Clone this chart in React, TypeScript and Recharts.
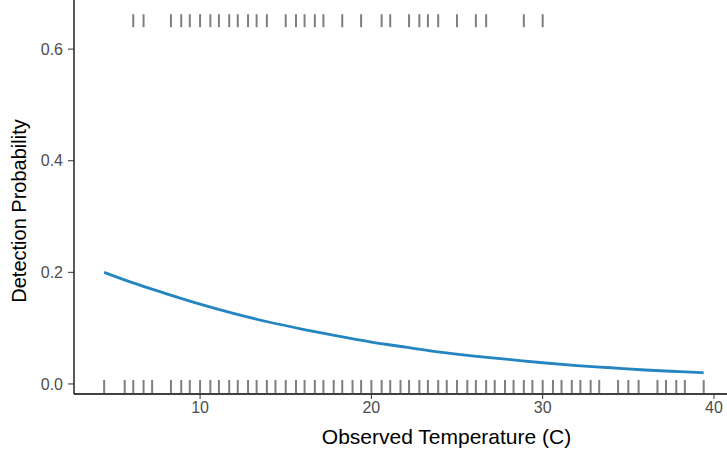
import React from "react";
import { ComposedChart, XAxis, YAxis, Line, Scatter, Label } from "recharts";

// Fitted detection-probability curve (temperature in C)
const curveTemp = [4.4, 6, 8, 10, 12, 14, 16, 18, 20, 22, 24, 26, 28, 30, 32, 34, 36, 38, 39.4];
const curveProb = [0.2, 0.182, 0.162, 0.143, 0.126, 0.111, 0.098, 0.086, 0.075, 0.066, 0.057, 0.05, 0.044, 0.038, 0.033, 0.029, 0.025, 0.022, 0.02];

// Rug of non-detections (bottom)
const rugBottom = [
  4.4, 5.6, 6.1, 6.7, 7.2, 8.3, 8.9, 9.4, 10.0, 10.6, 11.1, 11.7, 12.2, 12.8, 13.3, 13.9, 14.4, 15.0,
  15.6, 16.1, 16.7, 17.2, 17.8, 18.3, 18.9, 19.4, 20.0, 20.6, 21.1, 21.7, 22.2, 22.8, 23.3, 23.9, 24.4,
  25.0, 25.6, 26.1, 26.7, 27.2, 27.8, 28.3, 28.9, 29.4, 30.0, 30.6, 31.1, 31.7, 32.2, 32.8, 33.3,
  34.4, 35.0, 35.6, 36.7, 37.2, 37.8, 38.3, 39.4,
];

// Rug of detections (top)
const rugTop = [
  6.1, 6.7, 8.3, 8.9, 9.4, 10.0, 10.6, 11.1, 11.7, 12.2, 12.8, 13.3, 13.9, 15.0, 15.6, 16.1, 16.7, 17.2,
  18.3, 19.4, 20.6, 21.1, 22.2, 22.8, 23.3, 23.9, 25.0, 26.1, 26.7, 28.9, 30.0,
];

const xTicks = [10, 20, 30, 40];
const yTicks = [0, 0.2, 0.4, 0.6];

const curveData = curveTemp.map((x, i) => ({ x, p: curveProb[i] }));
const bottomData = rugBottom.map((x) => ({ x, y: 0 }));
const topData = rugTop.map((x) => ({ x, y: 0.65 }));

const FONT = "'Liberation Sans', Arial, sans-serif";
const RUG = "#7f7f7f";

const BottomTick = (props: any) => (
  <line x1={props.cx} x2={props.cx} y1={props.cy - 4} y2={props.cy + 9} stroke={RUG} strokeWidth={2} />
);
const TopTick = (props: any) => (
  <line x1={props.cx} x2={props.cx} y1={props.cy - 7} y2={props.cy + 6} stroke={RUG} strokeWidth={2} />
);

export default function App() {
  return (
    <div style={{ position: "absolute", left: 0, top: 0, width: 727, height: 455, background: "#fff" }}>
      <ComposedChart width={727} height={455} margin={{ top: 0, right: 0, left: 0, bottom: 0 }}>
        <XAxis
          type="number"
          dataKey="x"
          domain={[2.64, 40.76]}
          ticks={xTicks}
          allowDataOverflow
          height={61}
          axisLine={{ stroke: "#000", strokeWidth: 1.3 }}
          tickLine={{ stroke: "#333" }}
          tickSize={5}
          tickMargin={3}
          tick={{ fill: "#4d4d4d", fontSize: 16, fontFamily: FONT }}
        >
          <Label
            content={({ viewBox }: any) => (
              <text
                x={viewBox.x + viewBox.width / 2 + 46}
                y={viewBox.y + 50}
                textAnchor="middle"
                fontSize={21}
                fontFamily={FONT}
                fill="#000"
              >
                Observed Temperature (C)
              </text>
            )}
          />
        </XAxis>
        <YAxis
          type="number"
          domain={[-0.018, 0.688]}
          ticks={yTicks}
          allowDataOverflow
          width={74}
          axisLine={{ stroke: "#000", strokeWidth: 1.3 }}
          tickLine={{ stroke: "#333" }}
          tickSize={6}
          tickMargin={5}
          tickFormatter={(v: number) => v.toFixed(1)}
          tick={{ fill: "#4d4d4d", fontSize: 16, fontFamily: FONT }}
        >
          <Label
            content={({ viewBox }: any) => {
              const cx = viewBox.x + 26;
              const cy = viewBox.y + viewBox.height / 2 + 14;
              return (
                <text
                  x={cx}
                  y={cy}
                  transform={`rotate(-90 ${cx} ${cy})`}
                  textAnchor="middle"
                  fontSize={20}
                  fontFamily={FONT}
                  fill="#000"
                >
                  Detection Probability
                </text>
              );
            }}
          />
        </YAxis>
        <Scatter data={bottomData} dataKey="y" shape={BottomTick} isAnimationActive={false} />
        <Scatter data={topData} dataKey="y" shape={TopTick} isAnimationActive={false} />
        <Line
          data={curveData}
          dataKey="p"
          type="monotone"
          stroke="#2585c0"
          strokeWidth={2.8}
          dot={false}
          isAnimationActive={false}
        />
      </ComposedChart>
    </div>
  );
}
